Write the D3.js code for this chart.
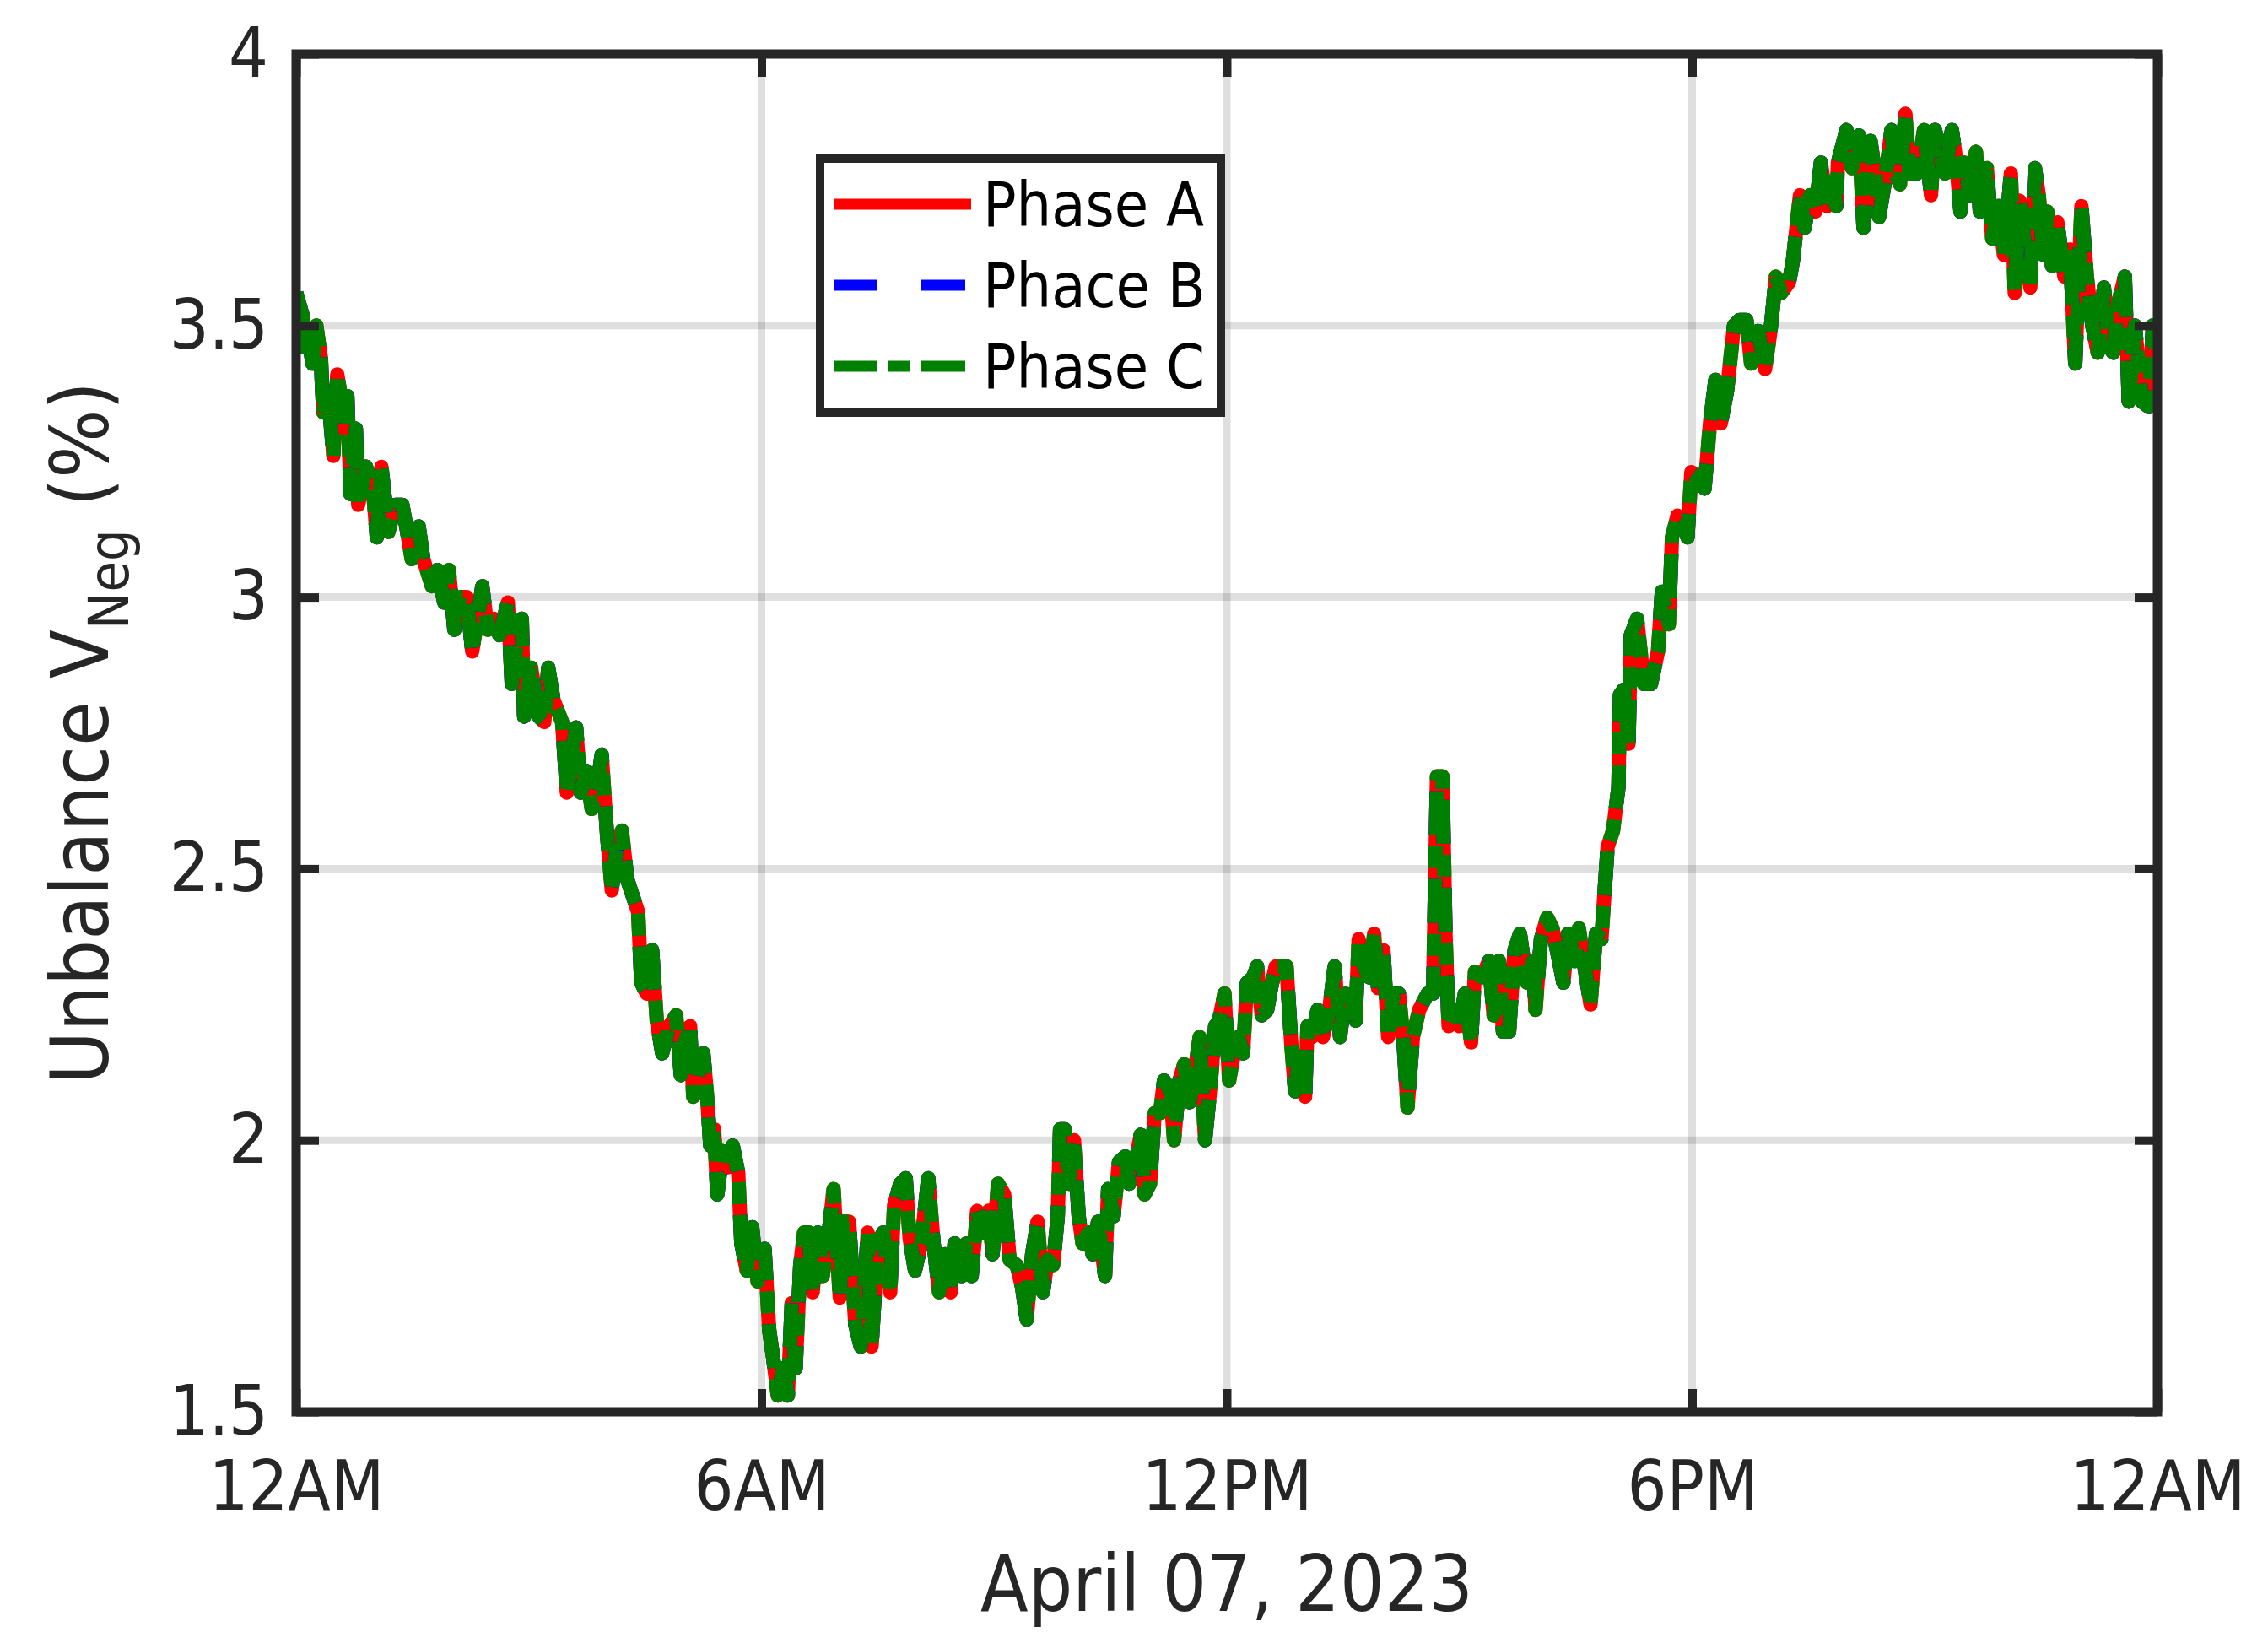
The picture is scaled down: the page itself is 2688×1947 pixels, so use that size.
<!DOCTYPE html>
<html>
<head>
<meta charset="utf-8">
<script src="https://cdn.jsdelivr.net/npm/d3@7"></script>
<style>
    body { margin: 0; background: #fff; }
    text { font-family: 'DejaVu Sans Condensed', 'DejaVu Sans', sans-serif; }
</style>
</head>
<body>
<div id="chart"></div>
<script>
// time of day in hours
const hours = [
    0.00,0.08,0.10,0.15,0.21,0.26,0.32,0.33,0.35,0.41,0.48,0.53,0.61,0.66,0.70,0.77,0.80,0.90,0.99,1.04,1.10,1.19,1.28,1.37,1.42,1.49,1.58,1.64,1.75,1.82,1.91,1.97,2.04,2.11,2.20,2.27,2.35,2.40,2.47,2.55,2.62,2.73,2.78,2.85,2.91,2.94,3.03,3.13,3.20,3.25,3.32,3.43,3.49,3.56,3.61,3.67,3.74,3.81,3.89,3.94,4.01,4.07,4.14,4.20,4.27,4.34,4.41,4.45,4.52,4.59,4.65,4.72,4.81,
    4.90,4.96,5.01,5.08,5.12,5.17,5.25,5.30,5.34,5.39,5.43,5.50,5.56,5.63,5.70,5.74,5.81,5.88,5.95,6.04,6.10,6.15,6.21,6.28,6.34,6.39,6.44,6.50,6.55,6.61,6.66,6.73,6.79,6.86,6.93,7.01,7.06,7.13,7.21,7.28,7.37,7.42,7.50,7.57,7.66,7.71,7.79,7.86,7.91,7.98,8.06,8.15,8.22,8.29,8.37,8.44,8.49,8.58,8.64,8.71,8.78,8.86,8.93,8.98,9.05,9.13,9.20,9.29,9.36,9.42,9.49,9.56,9.63,
    9.69,9.76,9.82,9.85,9.91,9.96,10.03,10.09,10.14,10.22,10.27,10.34,10.43,10.47,10.54,10.61,10.69,10.74,10.81,10.89,10.94,11.01,11.07,11.14,11.19,11.27,11.32,11.39,11.45,11.52,11.59,11.65,11.72,11.79,11.85,11.90,11.97,12.03,12.08,12.15,12.21,12.26,12.34,12.39,12.45,12.52,12.57,12.63,12.70,12.77,12.83,12.88,12.93,13.01,13.04,13.10,13.17,13.24,13.32,13.39,13.46,13.53,13.61,13.66,13.70,13.77,13.84,13.90,13.95,14.02,14.08,14.15,14.22,14.28,14.33,14.40,14.48,
    14.59,14.66,14.71,14.78,14.82,14.86,14.93,15.00,15.07,15.15,15.20,15.29,15.38,15.44,15.51,15.56,15.64,15.71,15.78,15.87,15.95,15.98,16.05,16.13,16.20,16.27,16.34,16.40,16.49,16.54,16.60,16.69,16.76,16.83,16.91,16.98,17.05,17.07,17.12,17.18,17.21,17.29,17.38,17.47,17.56,17.61,17.70,17.74,17.81,17.89,17.94,17.99,18.08,18.16,18.23,18.30,18.37,18.45,18.54,18.61,18.70,18.76,18.85,18.94,19.01,19.08,19.15,19.25,19.30,
    19.39,19.45,19.52,19.59,19.66,19.74,19.81,19.86,19.88,19.99,20.06,20.15,20.21,20.30,20.37,20.41,20.48,20.57,20.62,20.68,20.75,20.80,20.90,20.99,21.08,21.13,21.19,21.26,21.35,21.40,21.46,21.51,21.58,21.66,21.71,21.80,21.87,21.95,22.02,22.11,22.16,22.22,22.29,22.36,22.42,22.47,22.53,22.58,22.64,22.71,22.80,22.87,22.94,23.02,23.09,23.16,23.23,23.31,23.38,23.43,23.49,23.58,23.63,23.71,23.80,23.89,23.94,24.00
];

// negative sequence unbalance (%), phase A
const phaseA = [
    3.56,3.52,3.46,3.49,3.43,3.50,3.44,3.40,3.34,3.38,3.26,3.41,3.34,3.37,3.19,3.31,3.17,3.24,3.20,3.11,3.24,3.12,3.17,3.17,3.13,3.07,3.13,3.07,3.02,3.05,2.99,3.05,2.94,3.00,3.00,2.90,2.97,3.02,2.94,2.96,2.93,2.99,2.84,2.92,2.96,2.78,2.87,2.78,2.77,2.87,2.81,2.77,2.64,2.71,2.76,2.64,2.68,2.61,2.66,2.71,2.56,2.46,2.55,2.57,2.48,2.45,2.42,2.29,2.27,2.35,2.22,2.16,2.21,
    2.23,2.12,2.18,2.21,2.08,2.12,2.16,2.08,1.99,2.02,1.90,1.98,1.95,1.99,1.94,1.81,1.76,1.84,1.74,1.80,1.65,1.60,1.53,1.58,1.53,1.70,1.58,1.77,1.83,1.83,1.72,1.83,1.75,1.82,1.91,1.71,1.85,1.85,1.66,1.62,1.83,1.62,1.81,1.83,1.72,1.88,1.92,1.93,1.82,1.76,1.81,1.93,1.81,1.72,1.79,1.72,1.81,1.75,1.81,1.75,1.87,1.83,1.87,1.79,1.92,1.90,1.78,1.77,1.73,1.67,1.79,1.85,1.72,
    1.78,1.77,1.86,2.02,2.02,1.92,2.00,1.86,1.81,1.83,1.79,1.85,1.75,1.91,1.86,1.96,1.97,1.92,1.95,2.01,1.90,1.92,2.05,2.05,2.11,2.09,2.00,2.11,2.14,2.07,2.13,2.19,2.00,2.10,2.21,2.22,2.27,2.11,2.15,2.19,2.16,2.29,2.30,2.32,2.23,2.24,2.28,2.32,2.32,2.32,2.18,2.09,2.15,2.08,2.21,2.19,2.24,2.19,2.24,2.32,2.19,2.27,2.26,2.22,2.37,2.32,2.30,2.38,2.28,2.35,2.19,2.27,2.27,2.18,2.06,2.19,2.24,
    2.27,2.27,2.67,2.67,2.38,2.21,2.24,2.21,2.27,2.18,2.31,2.30,2.33,2.23,2.33,2.20,2.20,2.35,2.38,2.29,2.33,2.24,2.37,2.41,2.39,2.34,2.29,2.38,2.33,2.39,2.33,2.25,2.38,2.37,2.54,2.57,2.65,2.82,2.83,2.73,2.93,2.96,2.84,2.84,2.90,3.01,2.95,3.11,3.15,3.14,3.11,3.23,3.22,3.20,3.32,3.40,3.32,3.38,3.50,3.51,3.51,3.43,3.49,3.42,3.49,3.59,3.56,3.58,3.62,
    3.74,3.68,3.74,3.71,3.80,3.72,3.76,3.72,3.80,3.86,3.79,3.85,3.68,3.84,3.77,3.70,3.76,3.86,3.78,3.76,3.89,3.78,3.78,3.86,3.74,3.86,3.83,3.78,3.86,3.81,3.71,3.80,3.74,3.82,3.71,3.79,3.66,3.72,3.63,3.78,3.56,3.73,3.65,3.57,3.79,3.74,3.63,3.71,3.61,3.69,3.59,3.64,3.43,3.72,3.59,3.50,3.45,3.57,3.46,3.45,3.54,3.59,3.36,3.50,3.36,3.35,3.50,3.43
];
// the three phases lie on top of each other in the figure
const phaseB = phaseA.slice();
const phaseC = phaseA.slice();

const seriesNames = ['Phase A', 'Phace B', 'Phase C'];
const seriesColors = ['#ff0000', '#0000ff', '#008000'];
const seriesDash = [null, '52,52', '52,13,26,13'];

const xTicks = [0, 6, 12, 18, 24];
const xTickLabels = ['12AM', '6AM', '12PM', '6PM', '12AM'];
const yTicks = [1.5, 2, 2.5, 3, 3.5, 4];

const xLabel = 'April 07, 2023';

drawChart();

function drawChart() {
    const width = 2688, height = 1947;
    const left = 351, right = 2557, top = 64, bottom = 1673;
    const axisColor = '#262626';

    const svg = d3.select('#chart').append('svg')
        .attr('width', width)
        .attr('height', height)
        .style('background', '#fff');

    const x = d3.scaleLinear().domain([0, 24]).range([left, right]);
    const y = d3.scaleLinear().domain([1.5, 4]).range([bottom, top]);

    svg.append('clipPath').attr('id', 'plotClip')
        .append('rect')
        .attr('x', left).attr('y', top)
        .attr('width', right - left).attr('height', bottom - top);

    // grid
    const grid = svg.append('g')
        .attr('stroke', axisColor)
        .attr('stroke-opacity', 0.15)
        .attr('stroke-width', 9);
    grid.selectAll('.vgrid')
        .data(xTicks)
        .join('line')
        .attr('x1', d => x(d)).attr('x2', d => x(d))
        .attr('y1', top).attr('y2', bottom);
    grid.selectAll('.hgrid')
        .data(yTicks)
        .join('line')
        .attr('x1', left).attr('x2', right)
        .attr('y1', d => y(d)).attr('y2', d => y(d));

    // series
    const allSeries = [phaseA, phaseB, phaseC];
    const line = d3.line()
        .x(d => x(d[0]))
        .y(d => y(d[1]));

    svg.append('g')
        .attr('clip-path', 'url(#plotClip)')
        .selectAll('path')
        .data(allSeries)
        .join('path')
        .attr('d', s => line(d3.zip(hours, s)))
        .attr('fill', 'none')
        .attr('stroke', (s, i) => seriesColors[i])
        .attr('stroke-width', 17)
        .attr('stroke-linejoin', 'round')
        .attr('stroke-dasharray', (s, i) => seriesDash[i]);

    // axes, ticks pointing inward on all four sides
    const tickLen = 27;
    const xAxis = svg.append('g')
        .attr('transform', `translate(0,${bottom})`)
        .call(d3.axisBottom(x)
            .tickValues(xTicks)
            .tickFormat((d, i) => xTickLabels[i])
            .tickSizeInner(-tickLen)
            .tickSizeOuter(0)
            .tickPadding(58));
    const yAxis = svg.append('g')
        .attr('transform', `translate(${left},0)`)
        .call(d3.axisLeft(y)
            .tickValues(yTicks)
            .tickFormat(d3.format('~g'))
            .tickSizeInner(-tickLen)
            .tickSizeOuter(0)
            .tickPadding(33));
    const xAxisTop = svg.append('g')
        .attr('transform', `translate(0,${top})`)
        .call(d3.axisTop(x).tickValues(xTicks).tickFormat('').tickSizeInner(-tickLen).tickSizeOuter(0));
    const yAxisRight = svg.append('g')
        .attr('transform', `translate(${right},0)`)
        .call(d3.axisRight(y).tickValues(yTicks).tickFormat('').tickSizeInner(-tickLen).tickSizeOuter(0));

    [xAxis, yAxis, xAxisTop, yAxisRight].forEach(a => {
        a.select('.domain').remove();
        a.selectAll('.tick line')
            .attr('stroke', axisColor)
            .attr('stroke-width', 10);
        a.selectAll('.tick text')
            .attr('fill', axisColor)
            .style('font-size', '82px');
    });

    // box
    svg.append('rect')
        .attr('x', left).attr('y', top)
        .attr('width', right - left).attr('height', bottom - top)
        .attr('fill', 'none')
        .attr('stroke', axisColor)
        .attr('stroke-width', 11);

    // axis labels
    svg.append('text')
        .attr('x', (left + right) / 2)
        .attr('y', 1909)
        .attr('text-anchor', 'middle')
        .attr('fill', axisColor)
        .style('font-size', '92px')
        .text(xLabel);

    const yLab = svg.append('text')
        .attr('transform', `translate(128,${(top + bottom) / 2}) rotate(-90)`)
        .attr('text-anchor', 'middle')
        .attr('fill', axisColor)
        .style('font-size', '95px');
    yLab.append('tspan').text('Unbalance V');
    yLab.append('tspan').text('Neg').style('font-size', '66px').attr('dy', 24);
    yLab.append('tspan').text('\u00a0(%)').attr('dy', -24);

    // legend
    const legend = svg.append('g');
    legend.append('rect')
        .attr('x', 972).attr('y', 188)
        .attr('width', 475).attr('height', 301)
        .attr('fill', '#fff')
        .attr('stroke', axisColor)
        .attr('stroke-width', 10);

    const rows = legend.selectAll('.row')
        .data(seriesNames)
        .join('g')
        .attr('transform', (d, i) => `translate(0,${242 + i * 96})`);
    rows.append('line')
        .attr('x1', 988).attr('x2', 1151)
        .attr('stroke', (d, i) => seriesColors[i])
        .attr('stroke-width', 13)
        .attr('stroke-dasharray', (d, i) => seriesDash[i]);
    rows.append('text')
        .attr('x', 1165)
        .attr('dy', '0.36em')
        .attr('fill', '#000')
        .style('font-size', '73px')
        .text(d => d);
}
</script>
</body>
</html>
